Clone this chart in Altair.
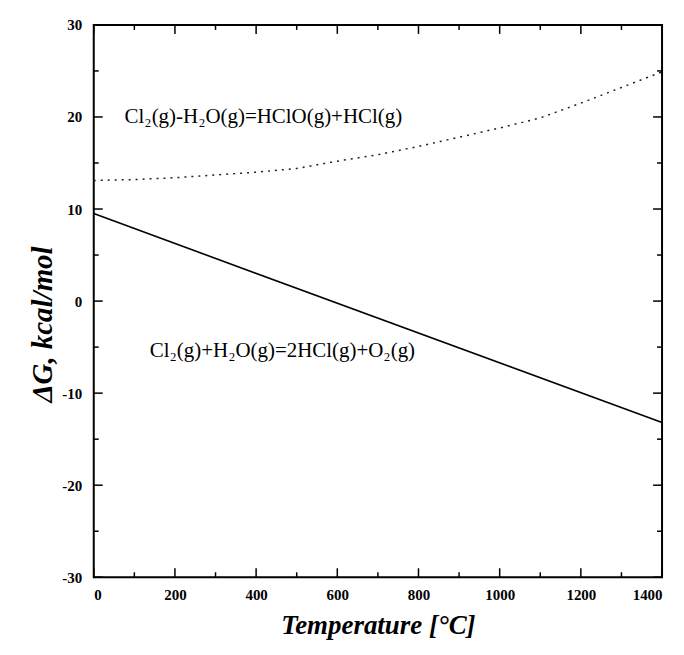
import altair as alt
import pandas as pd

# Data
temp_dash = [0, 100, 200, 300, 400, 500, 600, 700, 800, 900, 1000, 1100, 1200, 1300, 1400]
dg_dash = [13.1, 13.2, 13.4, 13.7, 14.0, 14.4, 15.2, 15.9, 16.8, 17.8, 18.8, 19.9, 21.5, 23.2, 24.9]
temp_solid = [0, 1400]
dg_solid = [9.5, -13.2]

x_ticks_major = [0, 200, 400, 600, 800, 1000, 1200, 1400]
x_ticks_minor = [100, 300, 500, 700, 900, 1100, 1300]
y_ticks_major = [-30, -20, -10, 0, 10, 20, 30]
y_ticks_minor = [-25, -15, -5, 5, 15, 25]

label_text = ["Cl₂(g)-H₂O(g)=HClO(g)+HCl(g)", "Cl₂(g)+H₂O(g)=2HCl(g)+O₂(g)"]
label_x = [76, 138]
label_y = [20.0, -5.4]

W, H = 570, 554
FONT = "Liberation Serif"

xs = alt.Scale(domain=[0, 1400], nice=False, zero=False)
ys = alt.Scale(domain=[-30, 30], nice=False, zero=False)

dash_df = pd.DataFrame({"T": temp_dash, "G": dg_dash})
solid_df = pd.DataFrame({"T": temp_solid, "G": dg_solid})

x_axis = alt.Axis(values=x_ticks_major, ticks=False, domain=False, grid=False,
                  labelExpr="'' + datum.value",
                  labelFont=FONT, labelFontSize=15, labelFontWeight="bold", labelPadding=10,
                  title="Temperature [°C]", titleFont=FONT, titleFontSize=27,
                  titleFontWeight="bold", titleFontStyle="italic", titlePadding=10)
y_axis = alt.Axis(values=y_ticks_major, ticks=False, domain=False, grid=False,
                  labelExpr="'' + datum.value",
                  labelFont=FONT, labelFontSize=15, labelFontWeight="bold", labelPadding=12,
                  title="ΔG, kcal/mol", titleFont=FONT, titleFontSize=29,
                  titleFontWeight="bold", titleFontStyle="italic", titlePadding=4,
                  titleY=300)

solid = alt.Chart(solid_df).mark_line(color="black", strokeWidth=1.6).encode(
    x=alt.X("T:Q", scale=xs, axis=x_axis),
    y=alt.Y("G:Q", scale=ys, axis=y_axis),
)
dashed = alt.Chart(dash_df).mark_line(color="#222222", strokeWidth=1.5, strokeDash=[2, 5]).encode(
    x=alt.X("T:Q", scale=xs),
    y=alt.Y("G:Q", scale=ys),
)

xt_major = pd.DataFrame({"T": x_ticks_major})
xt_minor = pd.DataFrame({"T": x_ticks_minor})
yt_major = pd.DataFrame({"G": y_ticks_major})
yt_minor = pd.DataFrame({"G": y_ticks_minor})

def xticks(df, length):
    bottom = alt.Chart(df).mark_rule(color="black", strokeWidth=1.5).encode(
        x=alt.X("T:Q", scale=xs), y=alt.value(H), y2=alt.value(H - length))
    top = alt.Chart(df).mark_rule(color="black", strokeWidth=1.5).encode(
        x=alt.X("T:Q", scale=xs), y=alt.value(0), y2=alt.value(length))
    return bottom + top

def yticks(df, length):
    left = alt.Chart(df).mark_rule(color="black", strokeWidth=1.5).encode(
        y=alt.Y("G:Q", scale=ys), x=alt.value(0), x2=alt.value(length))
    right = alt.Chart(df).mark_rule(color="black", strokeWidth=1.5).encode(
        y=alt.Y("G:Q", scale=ys), x=alt.value(W), x2=alt.value(W - length))
    return left + right

labels_df = pd.DataFrame({"T": label_x, "G": label_y, "txt": label_text})
labels = alt.Chart(labels_df).mark_text(align="left", baseline="middle", font=FONT,
                                        fontSize=21, color="black").encode(
    x=alt.X("T:Q", scale=xs), y=alt.Y("G:Q", scale=ys), text="txt:N")

chart = alt.layer(
    solid, dashed,
    xticks(xt_major, 9), xticks(xt_minor, 5),
    yticks(yt_major, 9), yticks(yt_minor, 5),
    labels,
).properties(
    width=W, height=H,
    autosize=alt.AutoSizeParams(type="none"),
    padding={"left": 86, "top": 16, "right": 14, "bottom": 68},
).configure_view(stroke="black", strokeWidth=2)

chart.save("out.html", embed_options={"renderer": "svg", "actions": False})
